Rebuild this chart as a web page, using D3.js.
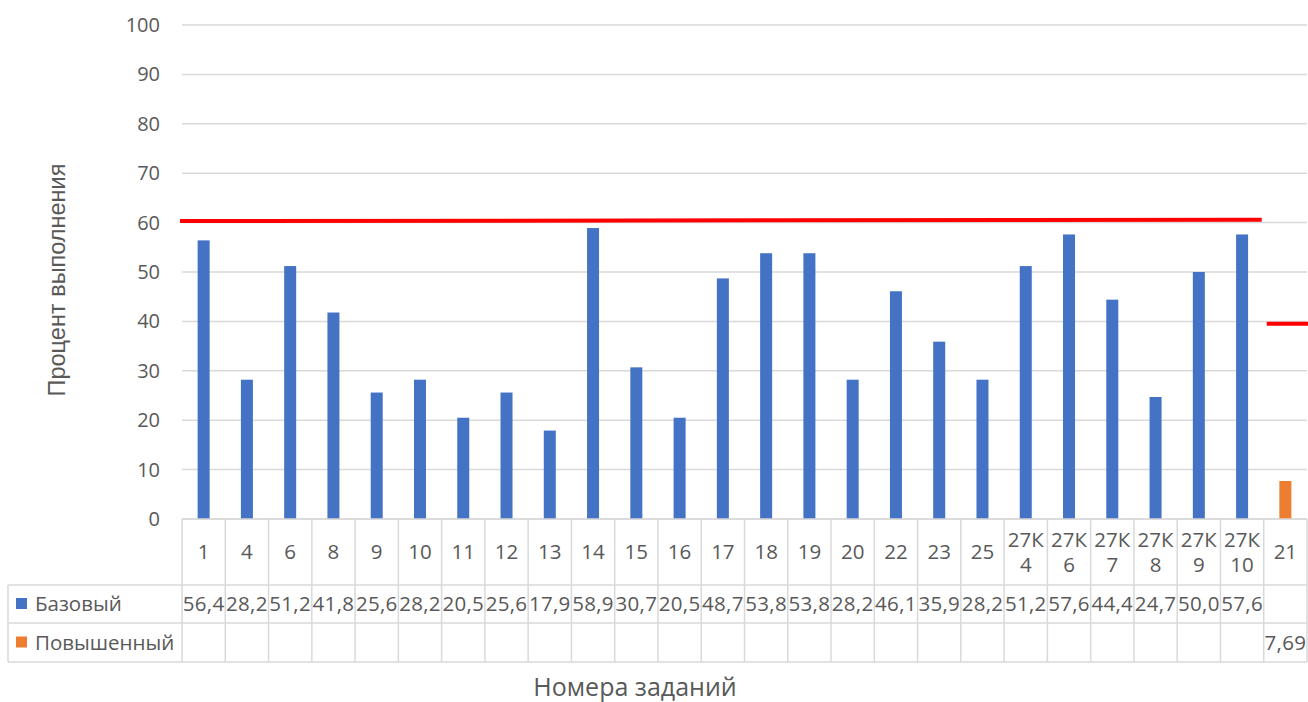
<!DOCTYPE html>
<html>
<head>
<meta charset="utf-8">
<script src="https://cdn.jsdelivr.net/npm/d3@7"></script>
<style>
  body { margin: 0; background: #fff; }
  svg { display: block; font-family: "Open Sans", sans-serif; }
  .grid line { stroke: #d9d9d9; stroke-width: 1.5; }
  .cell { stroke: #d9d9d9; stroke-width: 1.5; }
  text { fill: #595959; }
</style>
</head>
<body>
<svg width="1308" height="702"></svg>
<script>
var categories = ["1", "4", "6", "8", "9", "10", "11", "12", "13", "14", "15", "16", "17",
    "18", "19", "20", "22", "23", "25", "27К 4", "27К 6", "27К 7", "27К 8", "27К 9", "27К 10", "21"];
var baseValues = [56.4, 28.2, 51.2, 41.8, 25.6, 28.2, 20.5, 25.6, 17.9, 58.9, 30.7, 20.5, 48.7,
    53.8, 53.8, 28.2, 46.1, 35.9, 28.2, 51.2, 57.6, 44.4, 24.7, 50.0, 57.6, null];
var advancedValues = [null, null, null, null, null, null, null, null, null, null, null, null, null,
    null, null, null, null, null, null, null, null, null, null, null, null, 7.69];
var seriesNames = ["Базовый", "Повышенный"];
var seriesColors = ["#4472C4", "#ED7D31"];
var yTicks = [0, 10, 20, 30, 40, 50, 60, 70, 80, 90, 100];
// red threshold lines: [first category, last category, value at start, value at end]
var baseLimit = ["1", "27К 10", 60.3, 60.6];
var advancedLimit = ["21", "21", 39.5, 39.5];

var svg = d3.select('svg'),
    plotLeft = 182, plotRight = 1307, plotTop = 25, plotBottom = 519;

var x = d3.scaleBand().domain(categories).range([plotLeft, plotRight]);
var y = d3.scaleLinear().domain([0, 100]).range([plotBottom, plotTop]);

var comma = function(f) {
    return function(v) { return v == null ? '' : d3.format(f)(v).replace('.', ','); };
};

// grid lines
svg.append('g').attr('class', 'grid')
    .selectAll('line').data(yTicks).enter().append('line')
    .attr('x1', plotLeft).attr('x2', plotRight)
    .attr('y1', function(d) { return y(d); })
    .attr('y2', function(d) { return y(d); });

// y tick labels
svg.append('g').selectAll('text').data(yTicks).enter().append('text')
    .attr('x', 160).attr('y', function(d) { return y(d); })
    .attr('dy', '0.35em').attr('text-anchor', 'end')
    .style('font-size', '20px')
    .text(function(d) { return d; });

// bars
var barW = 12;
[baseValues, advancedValues].forEach(function(vals, i) {
    svg.append('g').selectAll('rect')
        .data(categories.map(function(c, j) { return { c: c, v: vals[j] }; })
            .filter(function(d) { return d.v != null; }))
        .enter().append('rect')
        .attr('x', function(d) { return x(d.c) + x.bandwidth() / 2 - barW / 2; })
        .attr('width', barW)
        .attr('y', function(d) { return y(d.v); })
        .attr('height', function(d) { return y(0) - y(d.v); })
        .attr('fill', seriesColors[i]);
});

// red lines
svg.append('line')
    .attr('x1', x(baseLimit[0]) - 2).attr('x2', x(baseLimit[1]) + x.bandwidth() - 2)
    .attr('y1', y(baseLimit[2])).attr('y2', y(baseLimit[3]))
    .attr('stroke', '#FF0000').attr('stroke-width', 4);
svg.append('line')
    .attr('x1', x(advancedLimit[0]) + 3).attr('x2', 1308)
    .attr('y1', y(advancedLimit[2])).attr('y2', y(advancedLimit[3]))
    .attr('stroke', '#FF0000').attr('stroke-width', 4);

// data table
var rowTop = 519, rowCat = 585, rowBase = 623, rowAdv = 662, tableLeft = 8;
var t = svg.append('g');
[rowTop, rowCat, rowBase, rowAdv].forEach(function(yy, i) {
    t.append('line').attr('class', 'cell')
        .attr('x1', i == 0 ? plotLeft : tableLeft).attr('x2', plotRight).attr('y1', yy).attr('y2', yy);
});
t.selectAll('.vline').data(categories.map(function(c) { return x(c); }).concat([plotRight]))
    .enter().append('line').attr('class', 'cell')
    .attr('x1', function(d) { return d; }).attr('x2', function(d) { return d; })
    .attr('y1', rowTop).attr('y2', rowAdv);
t.append('line').attr('class', 'cell')
    .attr('x1', tableLeft).attr('x2', tableLeft).attr('y1', rowCat).attr('y2', rowAdv);

// category labels (long ones wrap onto two lines)
categories.forEach(function(c) {
    var parts = c.split(' ');
    var cx = x(c) + x.bandwidth() / 2;
    parts.forEach(function(p, k) {
        t.append('text').attr('x', cx)
            .attr('y', (rowTop + rowCat) / 2 + (parts.length == 1 ? 0 : (k - 0.5) * 25))
            .attr('dy', '0.35em').attr('text-anchor', 'middle')
            .style('font-size', '20.5px').text(p);
    });
});

// values
[[baseValues, comma('.1f'), rowCat, rowBase], [advancedValues, comma('.2f'), rowBase, rowAdv]]
    .forEach(function(s) {
        t.append('g').selectAll('text').data(categories).enter().append('text')
            .attr('x', function(c) { return x(c) + x.bandwidth() / 2; })
            .attr('y', (s[2] + s[3]) / 2).attr('dy', '0.35em')
            .attr('text-anchor', 'middle')
            .style('font-size', '20.5px').style('letter-spacing', '0.3px')
            .text(function(c, j) { return s[1](s[0][j]); });
    });

// legend keys in table
[[rowCat, rowBase], [rowBase, rowAdv]].forEach(function(r, i) {
    var cy = (r[0] + r[1]) / 2;
    t.append('rect').attr('x', 16).attr('y', cy - 6).attr('width', 11).attr('height', 11)
        .attr('fill', seriesColors[i]);
    t.append('text').attr('x', 35).attr('y', cy).attr('dy', '0.35em')
        .style('font-size', '20.5px').text(seriesNames[i]);
});

// axis titles
svg.append('text').attr('x', 635).attr('y', 687).attr('dy', '0.35em')
    .attr('text-anchor', 'middle').style('font-size', '25px').text('Номера заданий');
svg.append('text')
    .attr('transform', 'translate(57,280) rotate(-90)')
    .attr('dy', '0.35em').attr('text-anchor', 'middle')
    .style('font-family', '"Liberation Sans", Arial, sans-serif')
    .style('font-size', '23.5px').text('Процент выполнения');
</script>
</body>
</html>
